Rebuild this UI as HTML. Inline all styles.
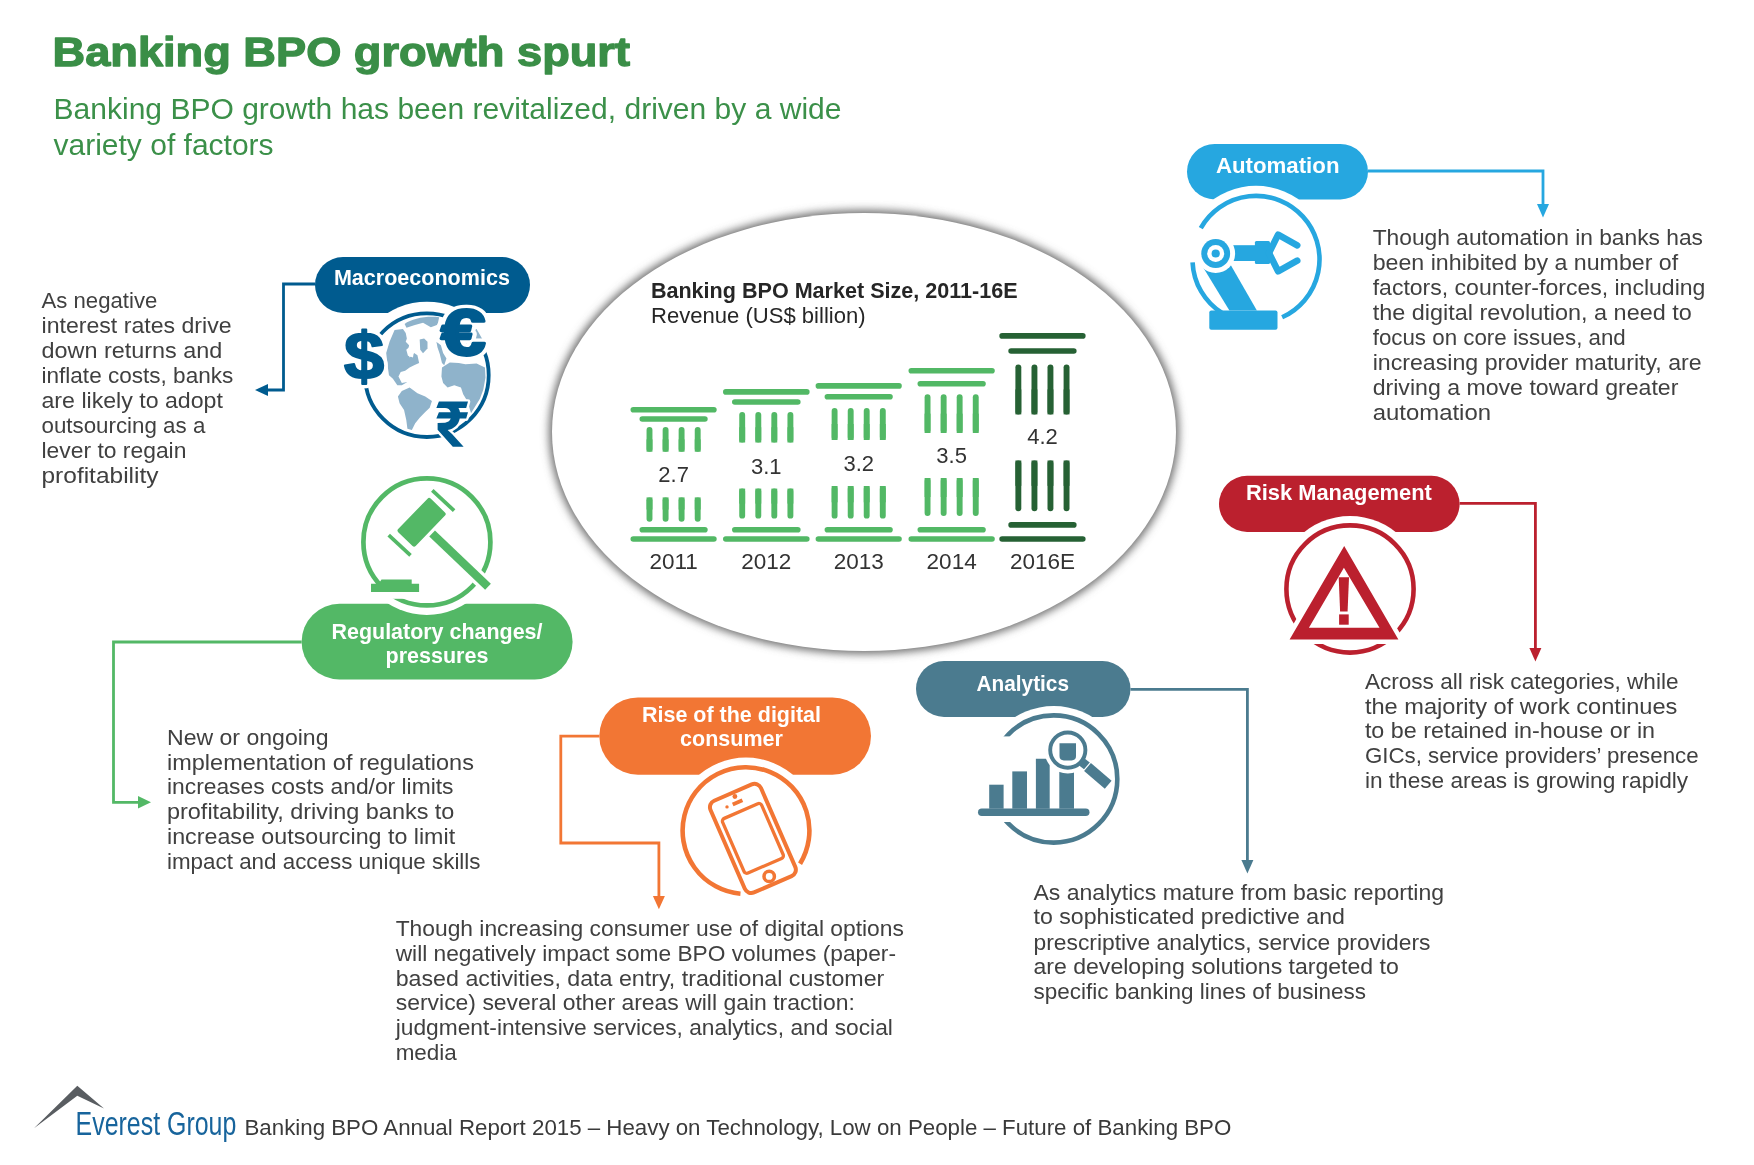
<!DOCTYPE html>
<html><head><meta charset="utf-8"><title>Banking BPO growth spurt</title>
<style>html,body{margin:0;padding:0;background:#fff;width:1754px;height:1165px;overflow:hidden}
svg{display:block;will-change:transform} text{font-family:"Liberation Sans",sans-serif}</style></head>
<body><svg width="1754" height="1165" viewBox="0 0 1754 1165">
<rect width="1754" height="1165" fill="#fff"/>
<text x="52.5" y="65.8" font-size="41.5" fill="#3a8e47" font-weight="bold" text-anchor="start" textLength="577.5" lengthAdjust="spacingAndGlyphs" stroke="#3a8e47" stroke-width="1.3" stroke-linejoin="round">Banking BPO growth spurt</text>
<text x="53.5" y="119.2" font-size="30" fill="#3b9049" font-weight="normal" text-anchor="start" textLength="788" lengthAdjust="spacingAndGlyphs" >Banking BPO growth has been revitalized, driven by a wide</text>
<text x="53.5" y="155.1" font-size="30" fill="#3b9049" font-weight="normal" text-anchor="start" >variety of factors</text>
<defs><filter id="sh" x="-20%" y="-20%" width="140%" height="140%"><feGaussianBlur stdDeviation="4.5"/></filter></defs>
<ellipse cx="864" cy="432" rx="315" ry="222" fill="#6e6e6e" filter="url(#sh)"/>
<ellipse cx="864" cy="432" rx="312" ry="219" fill="#fff"/>
<text x="650.9" y="298.2" font-size="21.5" fill="#262626" font-weight="bold" text-anchor="start" textLength="366.7" lengthAdjust="spacingAndGlyphs" >Banking BPO Market Size, 2011-16E</text>
<text x="651" y="322.9" font-size="22" fill="#262626" font-weight="normal" text-anchor="start" textLength="214.6" lengthAdjust="spacingAndGlyphs" >Revenue (US$ billion)</text>
<g stroke="#52b865" stroke-width="5.6" stroke-linecap="round" fill="none">
<line x1="633.3" y1="409.8" x2="713.9000000000001" y2="409.8"/>
<line x1="642.3" y1="419" x2="704.9000000000001" y2="419"/>
<line x1="642.3" y1="529.8" x2="704.9000000000001" y2="529.8"/>
<line x1="633.3" y1="539" x2="713.9000000000001" y2="539"/>
</g>
<g stroke="#52b865" stroke-width="5.9" fill="none">
<line x1="649.50" y1="429.95" x2="649.50" y2="448.75" stroke-linecap="round"/>
<line x1="649.50" y1="439.35" x2="649.50" y2="451.7"/>
<line x1="649.50" y1="500.34999999999997" x2="649.50" y2="518.75" stroke-linecap="round"/>
<line x1="649.50" y1="497.4" x2="649.50" y2="509.55"/>
<line x1="665.60" y1="429.95" x2="665.60" y2="448.75" stroke-linecap="round"/>
<line x1="665.60" y1="439.35" x2="665.60" y2="451.7"/>
<line x1="665.60" y1="500.34999999999997" x2="665.60" y2="518.75" stroke-linecap="round"/>
<line x1="665.60" y1="497.4" x2="665.60" y2="509.55"/>
<line x1="681.60" y1="429.95" x2="681.60" y2="448.75" stroke-linecap="round"/>
<line x1="681.60" y1="439.35" x2="681.60" y2="451.7"/>
<line x1="681.60" y1="500.34999999999997" x2="681.60" y2="518.75" stroke-linecap="round"/>
<line x1="681.60" y1="497.4" x2="681.60" y2="509.55"/>
<line x1="697.70" y1="429.95" x2="697.70" y2="448.75" stroke-linecap="round"/>
<line x1="697.70" y1="439.35" x2="697.70" y2="451.7"/>
<line x1="697.70" y1="500.34999999999997" x2="697.70" y2="518.75" stroke-linecap="round"/>
<line x1="697.70" y1="497.4" x2="697.70" y2="509.55"/>
</g>
<text x="673.6" y="482" font-size="22" fill="#333" font-weight="normal" text-anchor="middle" >2.7</text>
<text x="673.6" y="568.5" font-size="22.5" fill="#333" font-weight="normal" text-anchor="middle" >2011</text>
<g stroke="#52b865" stroke-width="5.6" stroke-linecap="round" fill="none">
<line x1="725.8" y1="391.9" x2="806.8000000000001" y2="391.9"/>
<line x1="734.8" y1="402" x2="797.8000000000001" y2="402"/>
<line x1="734.8" y1="529.8" x2="797.8000000000001" y2="529.8"/>
<line x1="725.8" y1="539" x2="806.8000000000001" y2="539"/>
</g>
<g stroke="#52b865" stroke-width="5.9" fill="none">
<line x1="742.20" y1="414.95" x2="742.20" y2="439.55" stroke-linecap="round"/>
<line x1="742.20" y1="427.25" x2="742.20" y2="442.5"/>
<line x1="742.20" y1="491.55" x2="742.20" y2="515.65" stroke-linecap="round"/>
<line x1="742.20" y1="488.6" x2="742.20" y2="503.6"/>
<line x1="758.30" y1="414.95" x2="758.30" y2="439.55" stroke-linecap="round"/>
<line x1="758.30" y1="427.25" x2="758.30" y2="442.5"/>
<line x1="758.30" y1="491.55" x2="758.30" y2="515.65" stroke-linecap="round"/>
<line x1="758.30" y1="488.6" x2="758.30" y2="503.6"/>
<line x1="774.30" y1="414.95" x2="774.30" y2="439.55" stroke-linecap="round"/>
<line x1="774.30" y1="427.25" x2="774.30" y2="442.5"/>
<line x1="774.30" y1="491.55" x2="774.30" y2="515.65" stroke-linecap="round"/>
<line x1="774.30" y1="488.6" x2="774.30" y2="503.6"/>
<line x1="790.40" y1="414.95" x2="790.40" y2="439.55" stroke-linecap="round"/>
<line x1="790.40" y1="427.25" x2="790.40" y2="442.5"/>
<line x1="790.40" y1="491.55" x2="790.40" y2="515.65" stroke-linecap="round"/>
<line x1="790.40" y1="488.6" x2="790.40" y2="503.6"/>
</g>
<text x="766.3" y="473.5" font-size="22" fill="#333" font-weight="normal" text-anchor="middle" >3.1</text>
<text x="766.3" y="568.5" font-size="22.5" fill="#333" font-weight="normal" text-anchor="middle" >2012</text>
<g stroke="#52b865" stroke-width="5.6" stroke-linecap="round" fill="none">
<line x1="818.4" y1="385.9" x2="899.0" y2="385.9"/>
<line x1="827.4" y1="396.8" x2="890.0" y2="396.8"/>
<line x1="827.4" y1="529.8" x2="890.0" y2="529.8"/>
<line x1="818.4" y1="539" x2="899.0" y2="539"/>
</g>
<g stroke="#52b865" stroke-width="5.9" fill="none">
<line x1="834.60" y1="410.95" x2="834.60" y2="437.05" stroke-linecap="round"/>
<line x1="834.60" y1="424.0" x2="834.60" y2="440"/>
<line x1="834.60" y1="488.95" x2="834.60" y2="515.65" stroke-linecap="round"/>
<line x1="834.60" y1="486" x2="834.60" y2="502.3"/>
<line x1="850.70" y1="410.95" x2="850.70" y2="437.05" stroke-linecap="round"/>
<line x1="850.70" y1="424.0" x2="850.70" y2="440"/>
<line x1="850.70" y1="488.95" x2="850.70" y2="515.65" stroke-linecap="round"/>
<line x1="850.70" y1="486" x2="850.70" y2="502.3"/>
<line x1="866.70" y1="410.95" x2="866.70" y2="437.05" stroke-linecap="round"/>
<line x1="866.70" y1="424.0" x2="866.70" y2="440"/>
<line x1="866.70" y1="488.95" x2="866.70" y2="515.65" stroke-linecap="round"/>
<line x1="866.70" y1="486" x2="866.70" y2="502.3"/>
<line x1="882.80" y1="410.95" x2="882.80" y2="437.05" stroke-linecap="round"/>
<line x1="882.80" y1="424.0" x2="882.80" y2="440"/>
<line x1="882.80" y1="488.95" x2="882.80" y2="515.65" stroke-linecap="round"/>
<line x1="882.80" y1="486" x2="882.80" y2="502.3"/>
</g>
<text x="858.7" y="471" font-size="22" fill="#333" font-weight="normal" text-anchor="middle" >3.2</text>
<text x="858.7" y="568.5" font-size="22.5" fill="#333" font-weight="normal" text-anchor="middle" >2013</text>
<g stroke="#52b865" stroke-width="5.6" stroke-linecap="round" fill="none">
<line x1="911.3" y1="370.7" x2="992.0" y2="370.7"/>
<line x1="920.3" y1="383.8" x2="983.0" y2="383.8"/>
<line x1="920.3" y1="529.8" x2="983.0" y2="529.8"/>
<line x1="911.3" y1="539" x2="992.0" y2="539"/>
</g>
<g stroke="#52b865" stroke-width="5.9" fill="none">
<line x1="927.55" y1="397.25" x2="927.55" y2="430.05" stroke-linecap="round"/>
<line x1="927.55" y1="413.65" x2="927.55" y2="433"/>
<line x1="927.55" y1="480.95" x2="927.55" y2="513.05" stroke-linecap="round"/>
<line x1="927.55" y1="478" x2="927.55" y2="497.0"/>
<line x1="943.65" y1="397.25" x2="943.65" y2="430.05" stroke-linecap="round"/>
<line x1="943.65" y1="413.65" x2="943.65" y2="433"/>
<line x1="943.65" y1="480.95" x2="943.65" y2="513.05" stroke-linecap="round"/>
<line x1="943.65" y1="478" x2="943.65" y2="497.0"/>
<line x1="959.65" y1="397.25" x2="959.65" y2="430.05" stroke-linecap="round"/>
<line x1="959.65" y1="413.65" x2="959.65" y2="433"/>
<line x1="959.65" y1="480.95" x2="959.65" y2="513.05" stroke-linecap="round"/>
<line x1="959.65" y1="478" x2="959.65" y2="497.0"/>
<line x1="975.75" y1="397.25" x2="975.75" y2="430.05" stroke-linecap="round"/>
<line x1="975.75" y1="413.65" x2="975.75" y2="433"/>
<line x1="975.75" y1="480.95" x2="975.75" y2="513.05" stroke-linecap="round"/>
<line x1="975.75" y1="478" x2="975.75" y2="497.0"/>
</g>
<text x="951.65" y="463" font-size="22" fill="#333" font-weight="normal" text-anchor="middle" >3.5</text>
<text x="951.65" y="568.5" font-size="22.5" fill="#333" font-weight="normal" text-anchor="middle" >2014</text>
<g stroke="#266134" stroke-width="5.6" stroke-linecap="round" fill="none">
<line x1="1002.0999999999999" y1="335.9" x2="1082.8" y2="335.9"/>
<line x1="1011.0999999999999" y1="351" x2="1073.8" y2="351"/>
<line x1="1011.0999999999999" y1="524.9" x2="1073.8" y2="524.9"/>
<line x1="1002.0999999999999" y1="539" x2="1082.8" y2="539"/>
</g>
<g stroke="#266134" stroke-width="5.9" fill="none">
<line x1="1018.35" y1="367.34999999999997" x2="1018.35" y2="411.45" stroke-linecap="round"/>
<line x1="1018.35" y1="389.4" x2="1018.35" y2="414.4"/>
<line x1="1018.35" y1="463.45" x2="1018.35" y2="508.25" stroke-linecap="round"/>
<line x1="1018.35" y1="460.5" x2="1018.35" y2="485.85"/>
<line x1="1034.45" y1="367.34999999999997" x2="1034.45" y2="411.45" stroke-linecap="round"/>
<line x1="1034.45" y1="389.4" x2="1034.45" y2="414.4"/>
<line x1="1034.45" y1="463.45" x2="1034.45" y2="508.25" stroke-linecap="round"/>
<line x1="1034.45" y1="460.5" x2="1034.45" y2="485.85"/>
<line x1="1050.45" y1="367.34999999999997" x2="1050.45" y2="411.45" stroke-linecap="round"/>
<line x1="1050.45" y1="389.4" x2="1050.45" y2="414.4"/>
<line x1="1050.45" y1="463.45" x2="1050.45" y2="508.25" stroke-linecap="round"/>
<line x1="1050.45" y1="460.5" x2="1050.45" y2="485.85"/>
<line x1="1066.55" y1="367.34999999999997" x2="1066.55" y2="411.45" stroke-linecap="round"/>
<line x1="1066.55" y1="389.4" x2="1066.55" y2="414.4"/>
<line x1="1066.55" y1="463.45" x2="1066.55" y2="508.25" stroke-linecap="round"/>
<line x1="1066.55" y1="460.5" x2="1066.55" y2="485.85"/>
</g>
<text x="1042.4499999999998" y="444.3" font-size="22" fill="#333" font-weight="normal" text-anchor="middle" >4.2</text>
<text x="1042.4499999999998" y="568.5" font-size="22.5" fill="#333" font-weight="normal" text-anchor="middle" >2016E</text>
<rect x="315" y="257" width="215" height="56" rx="28.0" ry="28.0" fill="#005b8f"/>
<rect x="301.6" y="603.8" width="271.0" height="75.70000000000005" rx="37.85000000000002" ry="37.85000000000002" fill="#53b866"/>
<rect x="1187" y="144" width="181" height="55.400000000000006" rx="27.700000000000003" ry="27.700000000000003" fill="#26a7e0"/>
<rect x="1219" y="475.8" width="240.5999999999999" height="56.19999999999999" rx="28.099999999999994" ry="28.099999999999994" fill="#bb202e"/>
<rect x="916" y="661" width="214.5" height="56" rx="28.0" ry="28.0" fill="#4b7b8f"/>
<rect x="599.3" y="697.4" width="271.70000000000005" height="77.30000000000007" rx="38.650000000000034" ry="38.650000000000034" fill="#f27634"/>
<circle cx="426.9" cy="375.2" r="73.5" fill="#fff"/>
<circle cx="426.9" cy="375.2" r="61.8" fill="none" stroke="#005b8f" stroke-width="3.8"/>
<g transform="translate(365,305) scale(0.11158)" fill="#8fb3cb">
<path d="M355,170 C420,120 560,95 665,110 L650,178 L590,200 L520,160 L440,182 L372,205 Z"/>
<path d="M190,430 L220,330 L265,225 L340,215 L365,250 L375,300 L365,330 L395,360 L385,420 L400,470 L440,430 L470,450 L485,520 L440,540 L400,560 L360,590 L320,600 L300,640 L330,700 L380,690 L330,720 L290,720 L250,660 L215,630 L205,560 Z"/>
<path d="M490,310 L530,300 L560,330 L560,390 L520,432 L495,400 Z"/>
<path d="M690,560 L760,515 L840,520 L900,530 L1000,525 L1075,560 L1080,650 L1060,760 L1030,840 L980,920 L950,970 L930,900 L910,850 L880,800 L860,740 L800,720 L740,740 L700,700 L685,640 Z"/>
<path d="M295,820 L330,770 L400,740 L470,790 L540,820 L600,860 L580,920 L540,960 L490,1010 L450,1060 L420,1120 L380,1110 L370,1030 L350,940 L310,880 Z"/>
<path d="M640,330 L680,360 L700,430 L730,480 L710,540 L690,520 L670,440 L650,380 Z"/>
<path d="M820,225 L1000,215 L1065,330 L1000,365 L850,355 Z"/>
</g>
<path transform="translate(365,305) scale(0.11158)" fill="#fff" d="M370,400 L400,375 L440,410 L430,470 L385,455 Z"/>
<text transform="translate(343.9,378.5) scale(0.0722,0.0666)" font-size="1000" font-weight="bold" fill="#fff" stroke="#fff" stroke-width="130" stroke-linejoin="round">$</text>
<text transform="translate(343.9,378.5) scale(0.0722,0.0666)" font-size="1000" font-weight="bold" fill="#005b8f" stroke="#005b8f" stroke-width="30" stroke-linejoin="round">$</text>
<text transform="translate(440.9,355.3) scale(0.0801,0.0641)" font-size="1000" font-weight="bold" fill="#fff" stroke="#fff" stroke-width="150" stroke-linejoin="round">€</text>
<text transform="translate(440.9,355.3) scale(0.0801,0.0641)" font-size="1000" font-weight="bold" fill="#005b8f" stroke="#005b8f" stroke-width="45" stroke-linejoin="round">€</text>
<path transform="translate(425,390) scale(0.051493)" fill="#005b8f" stroke="#fff" stroke-width="90" paint-order="stroke" stroke-linejoin="round" d="M270,225 L835,225 L800,350 L650,350 C665,375 675,400 680,430 L835,430 L800,555 L675,555 C650,680 560,760 440,775 L530,860 L750,1100 L540,1100 L245,770 L245,640 L390,635 C450,630 490,590 500,555 L220,555 L270,430 L500,430 C490,380 440,350 390,350 L220,350 Z"/>
<circle cx="426.9" cy="541.9" r="73" fill="#fff"/>
<circle cx="426.9" cy="541.9" r="63.5" fill="none" stroke="#53b866" stroke-width="4.7"/>
<rect x="362" y="592" width="43" height="6.8" fill="#fff"/>
<g transform="translate(421.6,522.3) rotate(44)" fill="#53b866">
<rect x="-12.15" y="-23.35" width="24.3" height="46.7" rx="2.2"/>
</g>
<rect x="-14.9" y="-1.85" width="29.8" height="3.7" fill="#53b866" transform="translate(443.2,500.5) rotate(43)"/>
<rect x="-14.9" y="-1.85" width="29.8" height="3.7" fill="#53b866" transform="translate(399.6,545.3) rotate(43)"/>
<line x1="432.1" y1="533.4" x2="488" y2="586.8" stroke="#fff" stroke-width="15"/>
<line x1="432.1" y1="533.4" x2="488" y2="586.8" stroke="#53b866" stroke-width="8.3"/>
<path d="M378.6,583.8 L381.5,579.6 L411.7,579.6 L411.7,583.8 L419.1,583.8 L419.1,592 L371,592 L371,583.8 Z" fill="#53b866"/>
<circle cx="1256" cy="259.4" r="73.6" fill="#fff"/>
<path d="M1222.35,313.25 A63.5,63.5 0 0 1 1192.57,262.28" fill="none" stroke="#26a7e0" stroke-width="4.6"/>
<path d="M1200.79,228.03 A63.5,63.5 0 1 1 1282.13,317.27" fill="none" stroke="#26a7e0" stroke-width="4.6"/>
<path d="M1203.5,268 L1229,262 L1256.9,310.5 L1229.4,310.5 Z" fill="#26a7e0"/>
<rect x="1232" y="245.2" width="25" height="15.8" fill="#26a7e0"/>
<rect x="1254.9" y="241.1" width="15.1" height="22.9" rx="1.5" fill="#26a7e0"/>
<polyline points="1269,253 1278.1,234.6 1297.2,245.4" fill="none" stroke="#26a7e0" stroke-width="6.6" stroke-linecap="round" stroke-linejoin="round"/>
<polyline points="1269,253 1278.1,271.3 1297.2,260.6" fill="none" stroke="#26a7e0" stroke-width="6.6" stroke-linecap="round" stroke-linejoin="round"/>
<circle cx="1215.7" cy="253.5" r="19.4" fill="#fff"/>
<circle cx="1215.7" cy="253.5" r="14.4" fill="#26a7e0"/>
<circle cx="1215.7" cy="253.5" r="8.5" fill="#fff"/>
<circle cx="1215.7" cy="253.5" r="4.1" fill="#26a7e0"/>
<rect x="1209.3" y="310.5" width="68.2" height="19.2" rx="2" fill="#26a7e0"/>
<circle cx="1350" cy="589" r="73" fill="#fff"/>
<circle cx="1350" cy="589" r="63.6" fill="none" stroke="#bb202e" stroke-width="4.6"/>
<path d="M1344.2,546 L1289.6,639.4 L1398.4,639.4 Z" fill="#fff" stroke="#fff" stroke-width="9" stroke-linejoin="miter"/>
<path fill-rule="evenodd" fill="#bb202e" d="M1344.2,546 L1289.6,639.4 L1398.4,639.4 Z M1343.9,567.7 L1308.9,627.8 L1379.5,627.8 Z"/>
<path d="M1338.7,577.3 L1349,577.3 L1347.6,611.6 L1340.1,611.6 Z" fill="#bb202e"/>
<rect x="1339.1" y="614.4" width="9.6" height="10.3" fill="#bb202e"/>
<circle cx="1053.7" cy="779" r="73" fill="#fff"/>
<circle cx="1053.7" cy="779" r="63.6" fill="none" stroke="#4b7b8f" stroke-width="4.6"/>
<rect x="975" y="736.4" width="37" height="85.6" fill="#fff"/>
<g fill="#4b7b8f">
<rect x="989.2" y="784.7" width="14.4" height="24"/>
<rect x="1012.3" y="771.4" width="14.7" height="37.3"/>
<path d="M1035.9,758.8 L1046.9,758.8 L1049.7,763.2 L1049.7,808.7 L1035.9,808.7 Z"/>
<rect x="1059.3" y="771.4" width="14.7" height="37.3"/>
<rect x="978" y="808.5" width="111.5" height="7.5" rx="3.75"/>
</g>
<circle cx="1067.8" cy="750.1" r="23.5" fill="#fff"/>
<line x1="1080" y1="761" x2="1110" y2="785" stroke="#fff" stroke-width="14"/>
<circle cx="1067.8" cy="750.1" r="17.6" fill="none" stroke="#4b7b8f" stroke-width="3.9"/>
<path d="M1059.5,743.3 L1076,743.3 L1076,756 Q1076,760.4 1071.6,760.4 L1063.9,760.4 Q1059.5,760.4 1059.5,756 Z" fill="#4b7b8f"/>
<line x1="1080.3" y1="760.8" x2="1088" y2="766.7" stroke="#4b7b8f" stroke-width="9"/>
<path d="M1084.1,771.1 L1090.9,763.1 L1111.6,780.7 L1104.8,788.7 Z" fill="#4b7b8f" stroke="#fff" stroke-width="2.4" paint-order="stroke" stroke-linejoin="round"/>
<circle cx="746" cy="830.6" r="73" fill="#fff"/>
<path d="M740.47,893.76 A63.4,63.4 0 1 1 800.06,863.73" fill="none" stroke="#f27634" stroke-width="4.6"/>
<g transform="translate(752.9,838.4) rotate(-23.5)" fill="none" stroke="#f27634">
<rect x="-27.5" y="-50" width="55" height="100" rx="7" stroke-width="4"/>
<rect x="-21.3" y="-29.8" width="42.6" height="59.6" rx="3" stroke-width="3.3"/>
</g>
<circle cx="769.2" cy="876.4" r="5.2" fill="none" stroke="#f27634" stroke-width="3.5"/>
<line x1="732.7" y1="804.5" x2="742.4" y2="800.2" stroke="#f27634" stroke-width="3.8"/>
<circle cx="734.9" cy="796.5" r="2.4" fill="#f27634"/>
<circle cx="727" cy="806.9" r="1.7" fill="#f27634"/>
<text x="421.9" y="285.3" font-size="21.5" fill="#fff" font-weight="bold" text-anchor="middle" textLength="176" lengthAdjust="spacingAndGlyphs" >Macroeconomics</text>
<text x="437" y="638.9" font-size="21.5" fill="#fff" font-weight="bold" text-anchor="middle" textLength="211" lengthAdjust="spacingAndGlyphs" >Regulatory changes/</text>
<text x="437" y="663" font-size="21.5" fill="#fff" font-weight="bold" text-anchor="middle" >pressures</text>
<text x="1277.7" y="173.3" font-size="21.5" fill="#fff" font-weight="bold" text-anchor="middle" textLength="123.6" lengthAdjust="spacingAndGlyphs" >Automation</text>
<text x="1338.9" y="500.4" font-size="21.5" fill="#fff" font-weight="bold" text-anchor="middle" textLength="186" lengthAdjust="spacingAndGlyphs" >Risk Management</text>
<text x="1022.8" y="690.5" font-size="21.5" fill="#fff" font-weight="bold" text-anchor="middle" textLength="92.4" lengthAdjust="spacingAndGlyphs" >Analytics</text>
<text x="731.5" y="721.8" font-size="21.5" fill="#fff" font-weight="bold" text-anchor="middle" textLength="179" lengthAdjust="spacingAndGlyphs" >Rise of the digital</text>
<text x="731.5" y="746.3" font-size="21.5" fill="#fff" font-weight="bold" text-anchor="middle" >consumer</text>
<path d="M315,284 L283.5,284 L283.5,390 L266,390" fill="none" stroke="#005b8f" stroke-width="2.8"/>
<path d="M255,390 L268,384 L268,396 Z" fill="#005b8f"/>
<path d="M301.6,642 L113.5,642 L113.5,802.3 L140,802.3" fill="none" stroke="#53b866" stroke-width="2.8"/>
<path d="M151,802.3 L138,796 L138,808.6 Z" fill="#53b866"/>
<path d="M1368,171 L1543,171 L1543,206" fill="none" stroke="#26a7e0" stroke-width="2.8"/>
<path d="M1543,217.4 L1537,204 L1549,204 Z" fill="#26a7e0"/>
<path d="M1459.6,503.3 L1535.4,503.3 L1535.4,650" fill="none" stroke="#bb202e" stroke-width="2.8"/>
<path d="M1535.4,661.5 L1529.4,648 L1541.4,648 Z" fill="#bb202e"/>
<path d="M1130.5,689.3 L1247.4,689.3 L1247.4,862" fill="none" stroke="#4b7b8f" stroke-width="2.8"/>
<path d="M1247.4,873.5 L1241.4,860 L1253.4,860 Z" fill="#4b7b8f"/>
<path d="M599.3,736.2 L560.8,736.2 L560.8,843 L658.9,843 L658.9,898" fill="none" stroke="#f27634" stroke-width="2.8"/>
<path d="M658.9,909.3 L652.9,896 L664.9,896 Z" fill="#f27634"/>
<text x="41.5" y="307.7" font-size="22.8" fill="#404040" font-weight="normal" text-anchor="start" textLength="115.8" lengthAdjust="spacingAndGlyphs" >As negative</text>
<text x="41.5" y="332.6" font-size="22.8" fill="#404040" font-weight="normal" text-anchor="start" textLength="190.1" lengthAdjust="spacingAndGlyphs" >interest rates drive</text>
<text x="41.5" y="357.5" font-size="22.8" fill="#404040" font-weight="normal" text-anchor="start" textLength="180.8" lengthAdjust="spacingAndGlyphs" >down returns and</text>
<text x="41.5" y="382.7" font-size="22.8" fill="#404040" font-weight="normal" text-anchor="start" textLength="191.8" lengthAdjust="spacingAndGlyphs" >inflate costs, banks</text>
<text x="41.5" y="407.6" font-size="22.8" fill="#404040" font-weight="normal" text-anchor="start" textLength="181.4" lengthAdjust="spacingAndGlyphs" >are likely to adopt</text>
<text x="41.5" y="432.5" font-size="22.8" fill="#404040" font-weight="normal" text-anchor="start" textLength="163.8" lengthAdjust="spacingAndGlyphs" >outsourcing as a</text>
<text x="41.5" y="457.7" font-size="22.8" fill="#404040" font-weight="normal" text-anchor="start" textLength="144.9" lengthAdjust="spacingAndGlyphs" >lever to regain</text>
<text x="41.5" y="482.7" font-size="22.8" fill="#404040" font-weight="normal" text-anchor="start" textLength="117.0" lengthAdjust="spacingAndGlyphs" >profitability</text>
<text x="167" y="744.5" font-size="22.8" fill="#404040" font-weight="normal" text-anchor="start" textLength="161.5" lengthAdjust="spacingAndGlyphs" >New or ongoing</text>
<text x="167" y="769.7" font-size="22.8" fill="#404040" font-weight="normal" text-anchor="start" textLength="306.9" lengthAdjust="spacingAndGlyphs" >implementation of regulations</text>
<text x="167" y="794.3" font-size="22.8" fill="#404040" font-weight="normal" text-anchor="start" textLength="286.5" lengthAdjust="spacingAndGlyphs" >increases costs and/or limits</text>
<text x="167" y="819.2" font-size="22.8" fill="#404040" font-weight="normal" text-anchor="start" textLength="287.4" lengthAdjust="spacingAndGlyphs" >profitability, driving banks to</text>
<text x="167" y="844.4" font-size="22.8" fill="#404040" font-weight="normal" text-anchor="start" textLength="288.1" lengthAdjust="spacingAndGlyphs" >increase outsourcing to limit</text>
<text x="167" y="869" font-size="22.8" fill="#404040" font-weight="normal" text-anchor="start" textLength="313.5" lengthAdjust="spacingAndGlyphs" >impact and access unique skills</text>
<text x="395.7" y="935.8" font-size="22.8" fill="#404040" font-weight="normal" text-anchor="start" textLength="508.2" lengthAdjust="spacingAndGlyphs" >Though increasing consumer use of digital options</text>
<text x="395.7" y="960.65" font-size="22.8" fill="#404040" font-weight="normal" text-anchor="start" textLength="500.3" lengthAdjust="spacingAndGlyphs" >will negatively impact some BPO volumes (paper-</text>
<text x="395.7" y="985.5" font-size="22.8" fill="#404040" font-weight="normal" text-anchor="start" textLength="488.6" lengthAdjust="spacingAndGlyphs" >based activities, data entry, traditional customer</text>
<text x="395.7" y="1010.35" font-size="22.8" fill="#404040" font-weight="normal" text-anchor="start" textLength="459.1" lengthAdjust="spacingAndGlyphs" >service) several other areas will gain traction:</text>
<text x="395.7" y="1035.2" font-size="22.8" fill="#404040" font-weight="normal" text-anchor="start" textLength="497.2" lengthAdjust="spacingAndGlyphs" >judgment-intensive services, analytics, and social</text>
<text x="395.7" y="1060.05" font-size="22.8" fill="#404040" font-weight="normal" text-anchor="start" textLength="61.1" lengthAdjust="spacingAndGlyphs" >media</text>
<text x="1033.5" y="899.7" font-size="22.8" fill="#404040" font-weight="normal" text-anchor="start" textLength="410.5" lengthAdjust="spacingAndGlyphs" >As analytics mature from basic reporting</text>
<text x="1033.5" y="924.4" font-size="22.8" fill="#404040" font-weight="normal" text-anchor="start" textLength="311.5" lengthAdjust="spacingAndGlyphs" >to sophisticated predictive and</text>
<text x="1033.5" y="949.6" font-size="22.8" fill="#404040" font-weight="normal" text-anchor="start" textLength="397.0" lengthAdjust="spacingAndGlyphs" >prescriptive analytics, service providers</text>
<text x="1033.5" y="974.4" font-size="22.8" fill="#404040" font-weight="normal" text-anchor="start" textLength="365.3" lengthAdjust="spacingAndGlyphs" >are developing solutions targeted to</text>
<text x="1033.5" y="999.3" font-size="22.8" fill="#404040" font-weight="normal" text-anchor="start" textLength="332.6" lengthAdjust="spacingAndGlyphs" >specific banking lines of business</text>
<text x="1372.7" y="244.5" font-size="22.8" fill="#404040" font-weight="normal" text-anchor="start" textLength="330.3" lengthAdjust="spacingAndGlyphs" >Though automation in banks has</text>
<text x="1372.7" y="269.5" font-size="22.8" fill="#404040" font-weight="normal" text-anchor="start" textLength="305.5" lengthAdjust="spacingAndGlyphs" >been inhibited by a number of</text>
<text x="1372.7" y="294.6" font-size="22.8" fill="#404040" font-weight="normal" text-anchor="start" textLength="332.7" lengthAdjust="spacingAndGlyphs" >factors, counter-forces, including</text>
<text x="1372.7" y="319.6" font-size="22.8" fill="#404040" font-weight="normal" text-anchor="start" textLength="319.1" lengthAdjust="spacingAndGlyphs" >the digital revolution, a need to</text>
<text x="1372.7" y="344.7" font-size="22.8" fill="#404040" font-weight="normal" text-anchor="start" textLength="253.1" lengthAdjust="spacingAndGlyphs" >focus on core issues, and</text>
<text x="1372.7" y="369.8" font-size="22.8" fill="#404040" font-weight="normal" text-anchor="start" textLength="329.0" lengthAdjust="spacingAndGlyphs" >increasing provider maturity, are</text>
<text x="1372.7" y="394.8" font-size="22.8" fill="#404040" font-weight="normal" text-anchor="start" textLength="305.7" lengthAdjust="spacingAndGlyphs" >driving a move toward greater</text>
<text x="1372.7" y="419.5" font-size="22.8" fill="#404040" font-weight="normal" text-anchor="start" textLength="118.3" lengthAdjust="spacingAndGlyphs" >automation</text>
<text x="1364.9" y="688.8" font-size="22.8" fill="#404040" font-weight="normal" text-anchor="start" textLength="313.6" lengthAdjust="spacingAndGlyphs" >Across all risk categories, while</text>
<text x="1364.9" y="713.6" font-size="22.8" fill="#404040" font-weight="normal" text-anchor="start" textLength="312.5" lengthAdjust="spacingAndGlyphs" >the majority of work continues</text>
<text x="1364.9" y="738.2" font-size="22.8" fill="#404040" font-weight="normal" text-anchor="start" textLength="290.2" lengthAdjust="spacingAndGlyphs" >to be retained in-house or in</text>
<text x="1364.9" y="763.1" font-size="22.8" fill="#404040" font-weight="normal" text-anchor="start" textLength="333.7" lengthAdjust="spacingAndGlyphs" >GICs, service providers’ presence</text>
<text x="1364.9" y="787.7" font-size="22.8" fill="#404040" font-weight="normal" text-anchor="start" textLength="323.3" lengthAdjust="spacingAndGlyphs" >in these areas is growing rapidly</text>
<path d="M34,1128.3 L77.3,1085.7 L104,1108.5 L77.3,1095.7 Z" fill="#595d61"/>
<text x="75.6" y="1134.6" font-size="33.4" fill="#17649c" font-weight="normal" text-anchor="start" textLength="160.7" lengthAdjust="spacingAndGlyphs" >Everest Group</text>
<text x="244.5" y="1134.8" font-size="22.3" fill="#3a3a3a" font-weight="normal" text-anchor="start" textLength="986.8" lengthAdjust="spacingAndGlyphs" >Banking BPO Annual Report 2015 – Heavy on Technology, Low on People – Future of Banking BPO</text>

</svg></body></html>
